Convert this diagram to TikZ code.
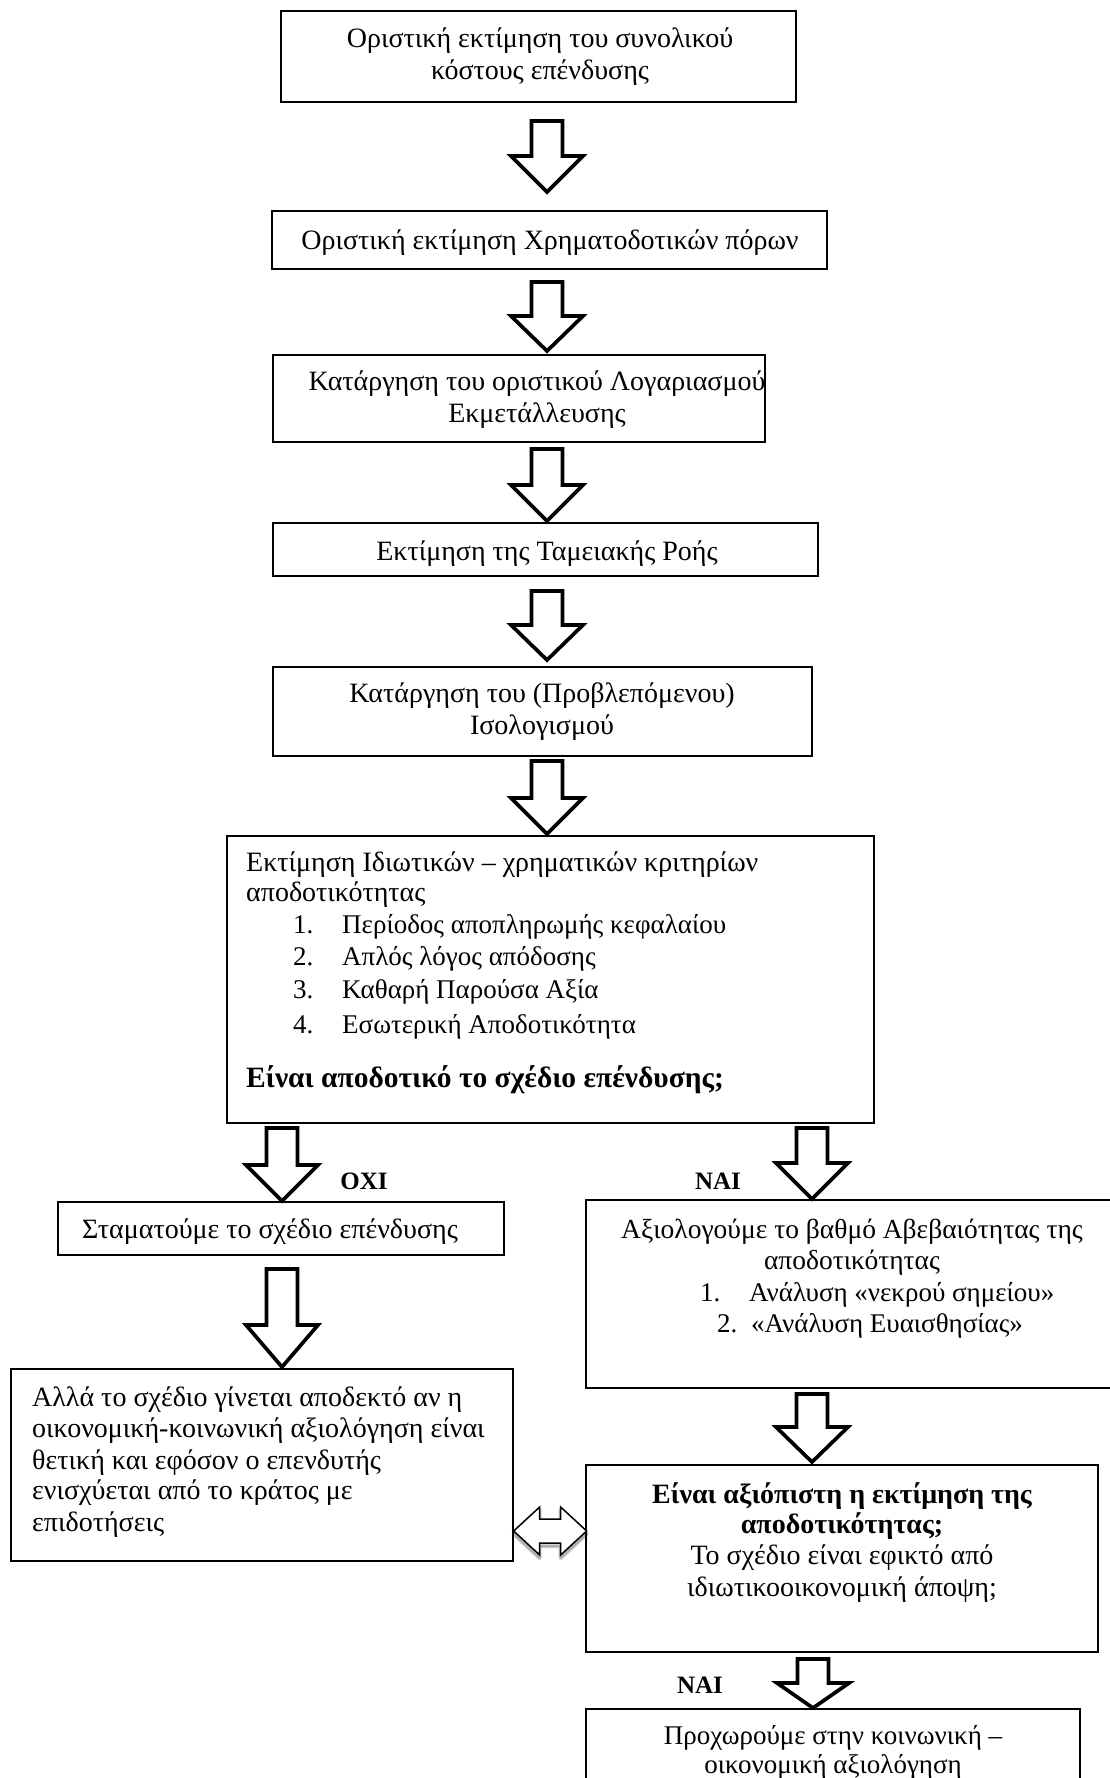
\documentclass[tikz,border=0pt]{standalone}
\usepackage{fontspec}
\setmainfont{Liberation Serif}
\usetikzlibrary{calc}
\newcommand{\camf}{\fontsize{28}{33}\selectfont}
\newcommand{\timf}{\fontsize{27}{32}\selectfont}
\tikzset{
  box/.style={draw, line width=1.3pt, inner sep=0pt},
  ln/.style={inner sep=0pt, text height=19pt, text depth=0pt},
  cam/.style={ln, font=\camf},
  tim/.style={ln, font=\timf},
  lab/.style={ln, font=\fontsize{25}{30}\selectfont\bfseries},
  arrowline/.style={draw, line width=3.7pt, line join=miter, fill=white},
  pics/bdn/.style n args={2}{code={
    \path[arrowline] (-15.5,0) -- (15.5,0) -- (15.5,#1-#2) -- (36,#1-#2) -- (0,#1) -- (-36,#1-#2) -- (-15.5,#1-#2) -- cycle;
  }}
}
\begin{document}
\begin{tikzpicture}[x=1pt,y=-1pt]
\useasboundingbox (0,0) rectangle (1109,1778);
\fill[white] (0,0) rectangle (1109,1778);

% boxes
\node[box, minimum width=515, minimum height=91] (b1) at (538.5,56.5) {};
\node[box, minimum width=555, minimum height=58] (b2) at (549.5,240) {};
\node[box, minimum width=492, minimum height=87] (b3) at (519,398.5) {};
\node[box, minimum width=545, minimum height=53] (b4) at (545.5,549.5) {};
\node[box, minimum width=539, minimum height=89] (b5) at (542.5,711.5) {};
\node[box, minimum width=647, minimum height=287] (b6) at (550.5,979.5) {};
\node[box, minimum width=446, minimum height=53] (b7) at (281,1228.5) {};
\node[box, minimum width=534, minimum height=188] (b8) at (853,1294) {};
\node[box, minimum width=502, minimum height=192] (b9) at (262,1465) {};
\node[box, minimum width=512, minimum height=187] (b10) at (842,1558.5) {};
\node[box, minimum width=494, minimum height=91] (b11) at (833,1754.5) {};

% texts
\node[cam] (t1a) at (540,38) {Οριστική εκτίμηση του συνολικού};
\node[cam] (t1b) at (540,70) {κόστους επένδυσης};
\node[cam] (t2) at (550,240) {Οριστική εκτίμηση Χρηματοδοτικών πόρων};
\node[cam] (t3a) at (537,381) {Κατάργηση του οριστικού Λογαριασμού};
\node[cam] (t3b) at (537,413) {Εκμετάλλευσης};
\node[cam] (t4) at (547,551) {Εκτίμηση της Ταμειακής Ροής};
\node[cam] (t5a) at (542,693) {Κατάργηση του (Προβλεπόμενου)};
\node[cam] (t5b) at (542,725) {Ισολογισμού};

\node[cam, anchor=west] (t6a) at (246,862) {Εκτίμηση Ιδιωτικών – χρηματικών κριτηρίων};
\node[cam, anchor=west] (t6b) at (246,892) {αποδοτικότητας};
\node[tim, anchor=west] (n61) at (293,924) {1.};
\node[tim, anchor=west] (t61) at (342,924) {Περίοδος αποπληρωμής κεφαλαίου};
\node[tim, anchor=west] (n62) at (293,956) {2.};
\node[tim, anchor=west] (t62) at (342,956) {Απλός λόγος απόδοσης};
\node[tim, anchor=west] (n63) at (293,989) {3.};
\node[tim, anchor=west] (t63) at (342,989) {Καθαρή Παρούσα Αξία};
\node[tim, anchor=west] (n64) at (293,1024) {4.};
\node[tim, anchor=west] (t64) at (342,1024) {Εσωτερική Αποδοτικότητα};
\node[ln, anchor=west, font=\fontsize{29.5}{34}\selectfont\bfseries] (t6c) at (246,1078) {Είναι αποδοτικό το σχέδιο επένδυσης;};

\node[cam] (t7) at (270,1229) {Σταματούμε το σχέδιο επένδυσης};

\node[ln, font=\fontsize{27.5}{32}\selectfont] (t8a) at (852,1229) {Αξιολογούμε το βαθμό Αβεβαιότητας της};
\node[ln, font=\fontsize{27.5}{32}\selectfont] (t8b) at (852,1260) {αποδοτικότητας};
\node[tim, anchor=west] (n81) at (700,1292) {1.};
\node[tim, anchor=west] (t81) at (749,1292) {Ανάλυση «νεκρού σημείου»};
\node[tim, anchor=west] (n82) at (717,1323) {2.};
\node[tim, anchor=west] (t82) at (751,1323) {«Ανάλυση Ευαισθησίας»};

\node[cam, anchor=west] (t9a) at (32,1397) {Αλλά το σχέδιο γίνεται αποδεκτό αν η};
\node[cam, anchor=west] (t9b) at (32,1428) {οικονομική-κοινωνική αξιολόγηση είναι};
\node[cam, anchor=west] (t9c) at (32,1460) {θετική και εφόσον ο επενδυτής};
\node[cam, anchor=west] (t9d) at (32,1490) {ενισχύεται από το κράτος με};
\node[cam, anchor=west] (t9e) at (32,1522) {επιδοτήσεις};

\node[cam, font=\camf\bfseries] (t10a) at (842,1494) {Είναι αξιόπιστη η εκτίμηση της};
\node[cam, font=\camf\bfseries] (t10b) at (842,1524) {αποδοτικότητας;};
\node[cam] (t10c) at (842,1555) {Το σχέδιο είναι εφικτό από};
\node[cam] (t10d) at (842,1587) {ιδιωτικοοικονομική άποψη;};

\node[tim] (t11a) at (833,1735) {Προχωρούμε στην κοινωνική –};
\node[tim] (t11b) at (833,1764) {οικονομική αξιολόγηση};

% labels
\node[lab] (lno) at (364,1180) {ΟΧΙ};
\node[lab] (lyes1) at (718,1180) {ΝΑΙ};
\node[lab] (lyes2) at (700,1684) {ΝΑΙ};

% block arrows
\pic (a1) at (547,121) {bdn={71}{36}};
\pic (a2) at (547,282) {bdn={69}{35}};
\pic (a3) at (547,449) {bdn={72}{36}};
\pic (a4) at (547,591) {bdn={69}{35}};
\pic (a5) at (547,761) {bdn={73}{36}};
\pic (aL1) at (282,1128) {bdn={73}{36}};
\pic (aR1) at (812,1128) {bdn={71}{36}};
\pic (aL2) at (282,1269) {bdn={98}{42}};
\pic (aR2) at (812,1394) {bdn={68}{35}};
\pic (aR3) at (813,1659) {bdn={49}{25}};

% double arrow with soft shadow
\foreach \o/\op in {5/0.06,4/0.08,3/0.10,2/0.12}{
  \draw[line width=\o pt, black, opacity=\op, line join=round, shift={(2,3)}]
    (b9.east |- 0,1531) -- ++(26,-24) -- ++(0,12) -- ++(21,0) -- ++(0,-12) -- ++(26,24) -- ++(-26,24) -- ++(0,-12) -- ++(-21,0) -- ++(0,12) -- cycle;
}
\draw[line width=1.5pt, fill=white, line join=miter] (b9.east |- 0,1531) coordinate (dl) -- ++(26,-24) -- ++(0,12) -- ++(21,0) -- ++(0,-12) -- ++(26,24) coordinate (dr) -- ++(-26,24) -- ++(0,-12) -- ++(-21,0) -- ++(0,12) -- cycle;
\end{tikzpicture}
\end{document}
